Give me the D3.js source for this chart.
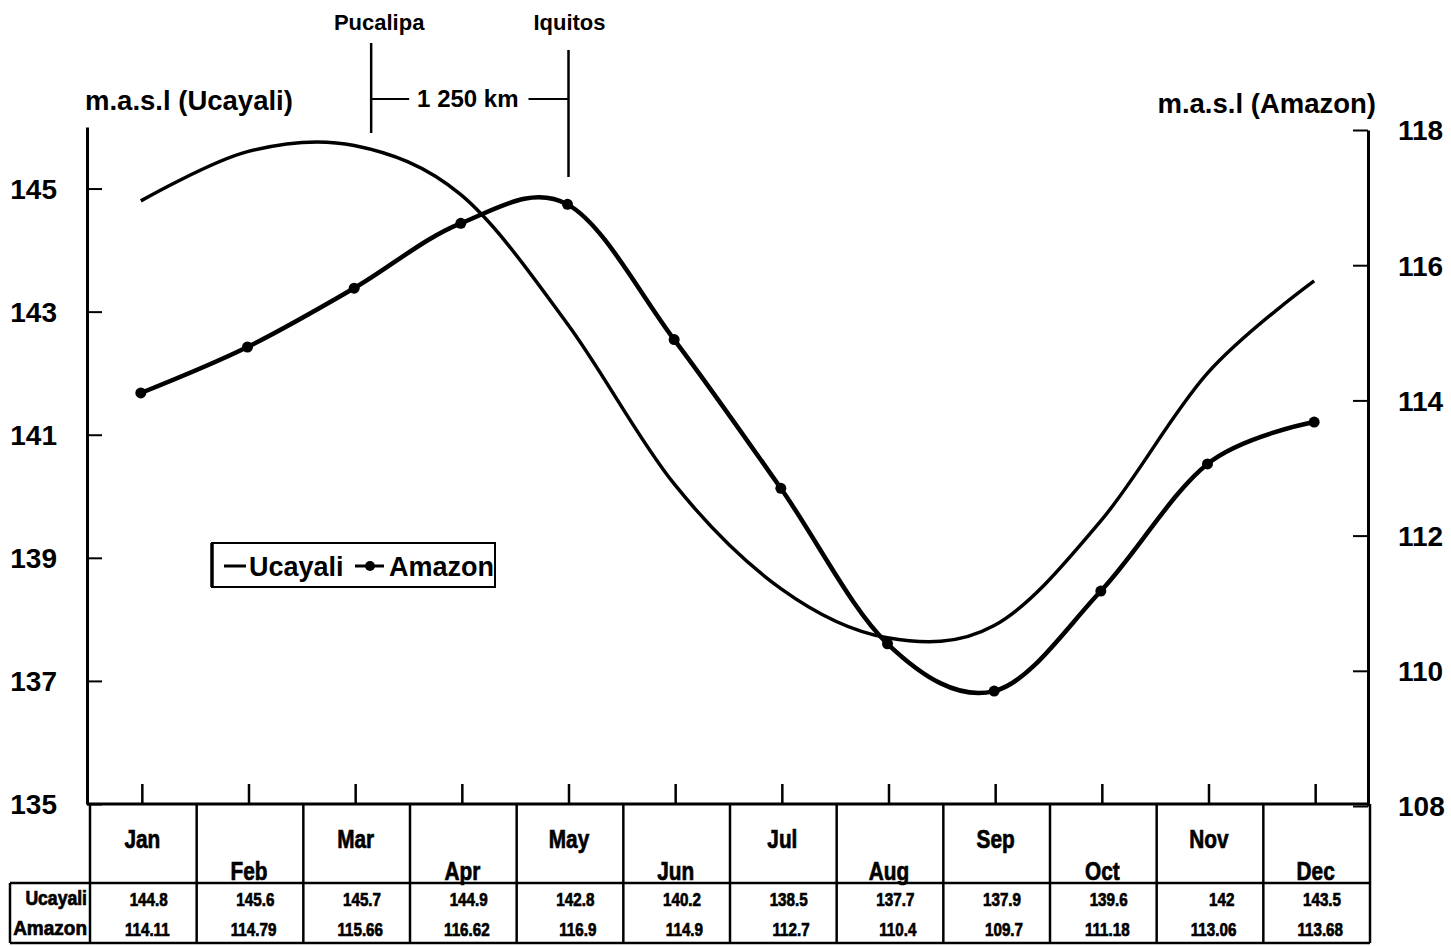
<!DOCTYPE html>
<html>
<head>
<meta charset="utf-8">
<script src="https://cdn.jsdelivr.net/npm/d3@7"></script>
<style>
  html, body { margin: 0; padding: 0; background: #fff; }
  svg { display: block; }
  .b { font-family: "Liberation Sans", Arial, sans-serif; font-weight: bold; fill: #000; }
  .heavy { stroke: #000; stroke-width: 0.7px; }
</style>
</head>
<body>
<script>
const months = ["Jan","Feb","Mar","Apr","May","Jun","Jul","Aug","Sep","Oct","Nov","Dec"];
const ucayali = [144.8,145.6,145.7,144.9,142.8,140.2,138.5,137.7,137.9,139.6,142,143.5];
const amazon = [114.11,114.79,115.66,116.62,116.9,114.9,112.7,110.4,109.7,111.18,113.06,113.68];
const leftTicks = [135,137,139,141,143,145];
const rightTicks = [108,110,112,114,116,118];
const seriesNames = ["Ucayali","Amazon"];
const leftTitle = "m.a.s.l (Ucayali)";
const rightTitle = "m.a.s.l (Amazon)";
const stations = ["Pucalipa","Iquitos"];
const distanceLabel = "1 250 km";

const W = 1451, H = 946;
const svg = d3.select("body").append("svg").attr("width", W).attr("height", H);
svg.append("rect").attr("width", W).attr("height", H).attr("fill", "#fff");

const axL = 87, axR = 1368;
const x = d3.scaleBand().domain(months).range([90, 1370]);
const xc = m => x(m) + x.bandwidth() / 2 - 2.5;
const yL = d3.scaleLinear().domain([135, 146]).range([804, 127]);
const yR = d3.scaleLinear().domain([108, 118]).range([806, 130]);

// condensed text helper
function ctext(g, tx, ty, str, size, sx, anchor) {
  return g.append("text").attr("class", "b heavy")
    .attr("transform", `translate(${tx},${ty}) scale(${sx},1)`)
    .attr("text-anchor", anchor || "start").style("font-size", size + "px").text(str);
}

// left axis
const gL = svg.append("g").attr("transform", `translate(${axL},0)`)
  .call(d3.axisLeft(yL).tickValues(leftTicks).tickSize(-15).tickSizeOuter(0).tickPadding(30).tickFormat(d3.format("d")));
gL.select(".domain").attr("stroke", "#000").attr("stroke-width", 3);
gL.selectAll(".tick line").attr("stroke", "#000").attr("stroke-width", 2);
gL.selectAll(".tick text").attr("class", "b").style("font-size", "28px").attr("font-family", null).attr("dy", "0.35em");

// right axis
const gR = svg.append("g").attr("transform", `translate(${axR},0)`)
  .call(d3.axisRight(yR).tickValues(rightTicks).tickSize(-15).tickSizeOuter(0).tickPadding(30).tickFormat(d3.format("d")));
gR.select(".domain").attr("stroke", "#000").attr("stroke-width", 3);
gR.selectAll(".tick line").attr("stroke", "#000").attr("stroke-width", 2);
gR.selectAll(".tick text").attr("class", "b").style("font-size", "28px").attr("font-family", null).attr("dy", "0.35em");

// bottom axis ticks (upward)
const gB = svg.append("g").attr("transform", `translate(0,${yL(135)})`)
  .call(d3.axisBottom(x).tickSize(-20).tickSizeOuter(0).tickFormat(""));
gB.select(".domain").remove();
gB.selectAll(".tick line").attr("stroke", "#000").attr("stroke-width", 2.5).attr("transform", "translate(-1,0)");
svg.append("line").attr("x1", axL).attr("x2", 1370).attr("y1", yL(135)).attr("y2", yL(135))
  .attr("stroke", "#000").attr("stroke-width", 3);

// axis titles
svg.append("text").attr("class", "b").attr("x", 85).attr("y", 110).style("font-size", "27.5px").text(leftTitle);
svg.append("text").attr("class", "b").attr("x", 1376).attr("y", 113).attr("text-anchor", "end").style("font-size", "27.5px").text(rightTitle);

// lines (uniform Catmull-Rom, like spreadsheet smoothing)
const curve = d3.curveCatmullRom.alpha(0);
const lineU = d3.line().x((d, i) => xc(months[i])).y(d => yL(d)).curve(curve);
const lineA = d3.line().x((d, i) => xc(months[i])).y(d => yR(d)).curve(curve);
svg.append("path").datum(ucayali).attr("d", lineU).attr("fill", "none").attr("stroke", "#000").attr("stroke-width", 3.5);
svg.append("path").datum(amazon).attr("d", lineA).attr("fill", "none").attr("stroke", "#000").attr("stroke-width", 4.5);
svg.selectAll("circle.pt").data(amazon).join("circle").attr("class", "pt")
  .attr("cx", (d, i) => xc(months[i])).attr("cy", d => yR(d)).attr("r", 5.5).attr("fill", "#000");

// station annotations
const pX = xc("Mar") + 17, iX = xc("May") + 1;
svg.append("text").attr("class", "b").attr("x", pX + 8).attr("y", 30).attr("text-anchor", "middle").style("font-size", "22px").text(stations[0]);
svg.append("text").attr("class", "b").attr("x", iX + 1).attr("y", 30).attr("text-anchor", "middle").style("font-size", "22px").text(stations[1]);
svg.append("line").attr("x1", pX).attr("x2", pX).attr("y1", 43).attr("y2", 133).attr("stroke", "#000").attr("stroke-width", 2.5);
svg.append("line").attr("x1", iX).attr("x2", iX).attr("y1", 50).attr("y2", 177).attr("stroke", "#000").attr("stroke-width", 2.5);
svg.append("line").attr("x1", pX).attr("x2", pX + 38).attr("y1", 99).attr("y2", 99).attr("stroke", "#000").attr("stroke-width", 2);
svg.append("line").attr("x1", iX - 40).attr("x2", iX).attr("y1", 99).attr("y2", 99).attr("stroke", "#000").attr("stroke-width", 2);
svg.append("text").attr("class", "b").attr("x", (pX + iX) / 2 - 2).attr("y", 107).attr("text-anchor", "middle").style("font-size", "24px").text(distanceLabel);

// legend
const lg = svg.append("g").attr("transform", "translate(212,543)");
lg.append("rect").attr("width", 283).attr("height", 44).attr("fill", "#fff").attr("stroke", "#000").attr("stroke-width", 2);
lg.append("line").attr("x1", 0).attr("x2", 0).attr("y1", 0).attr("y2", 44).attr("stroke", "#000").attr("stroke-width", 3.5);
lg.append("line").attr("x1", 12).attr("x2", 34).attr("y1", 23).attr("y2", 23).attr("stroke", "#000").attr("stroke-width", 3);
lg.append("text").attr("class", "b").attr("x", 37).attr("y", 33).style("font-size", "27px").text(seriesNames[0]);
lg.append("line").attr("x1", 143).attr("x2", 172).attr("y1", 23).attr("y2", 23).attr("stroke", "#000").attr("stroke-width", 3);
lg.append("circle").attr("cx", 158).attr("cy", 23).attr("r", 5).attr("fill", "#000");
lg.append("text").attr("class", "b").attr("x", 177).attr("y", 33).style("font-size", "27px").text(seriesNames[1]);

// data table
const tTop = yL(135), tMid = 883, tBot = 943;
const tbl = svg.append("g");
const sw = 2.5;
tbl.append("line").attr("x1", 10).attr("x2", 1370).attr("y1", tMid).attr("y2", tMid).attr("stroke", "#000").attr("stroke-width", sw);
tbl.append("line").attr("x1", 10).attr("x2", 1370).attr("y1", tBot).attr("y2", tBot).attr("stroke", "#000").attr("stroke-width", sw);
tbl.append("line").attr("x1", 10).attr("x2", 10).attr("y1", tMid).attr("y2", tBot).attr("stroke", "#000").attr("stroke-width", sw);
const borders = months.map(m => x(m)).concat([x.range()[1]]);
tbl.selectAll("line.vb").data(borders).join("line").attr("class", "vb")
  .attr("x1", d => d).attr("x2", d => d).attr("y1", tTop).attr("y2", tBot).attr("stroke", "#000").attr("stroke-width", sw);
months.forEach((m, i) => {
  ctext(tbl, x(m) + x.bandwidth() / 2 - 1, i % 2 === 0 ? 848 : 880, m, 26, 0.8, "middle");
});
ctext(tbl, 87, 905, seriesNames[0], 20, 0.88, "end");
ctext(tbl, 87, 935, seriesNames[1], 20, 0.95, "end");
ucayali.forEach((d, i) => {
  ctext(tbl, x(months[i]) + x.bandwidth() - 29, 906, String(d), 19, 0.8, "end");
});
amazon.forEach((d, i) => {
  ctext(tbl, x(months[i]) + x.bandwidth() - 27, 936, String(d), 19, 0.8, "end");
});
</script>
</body>
</html>
